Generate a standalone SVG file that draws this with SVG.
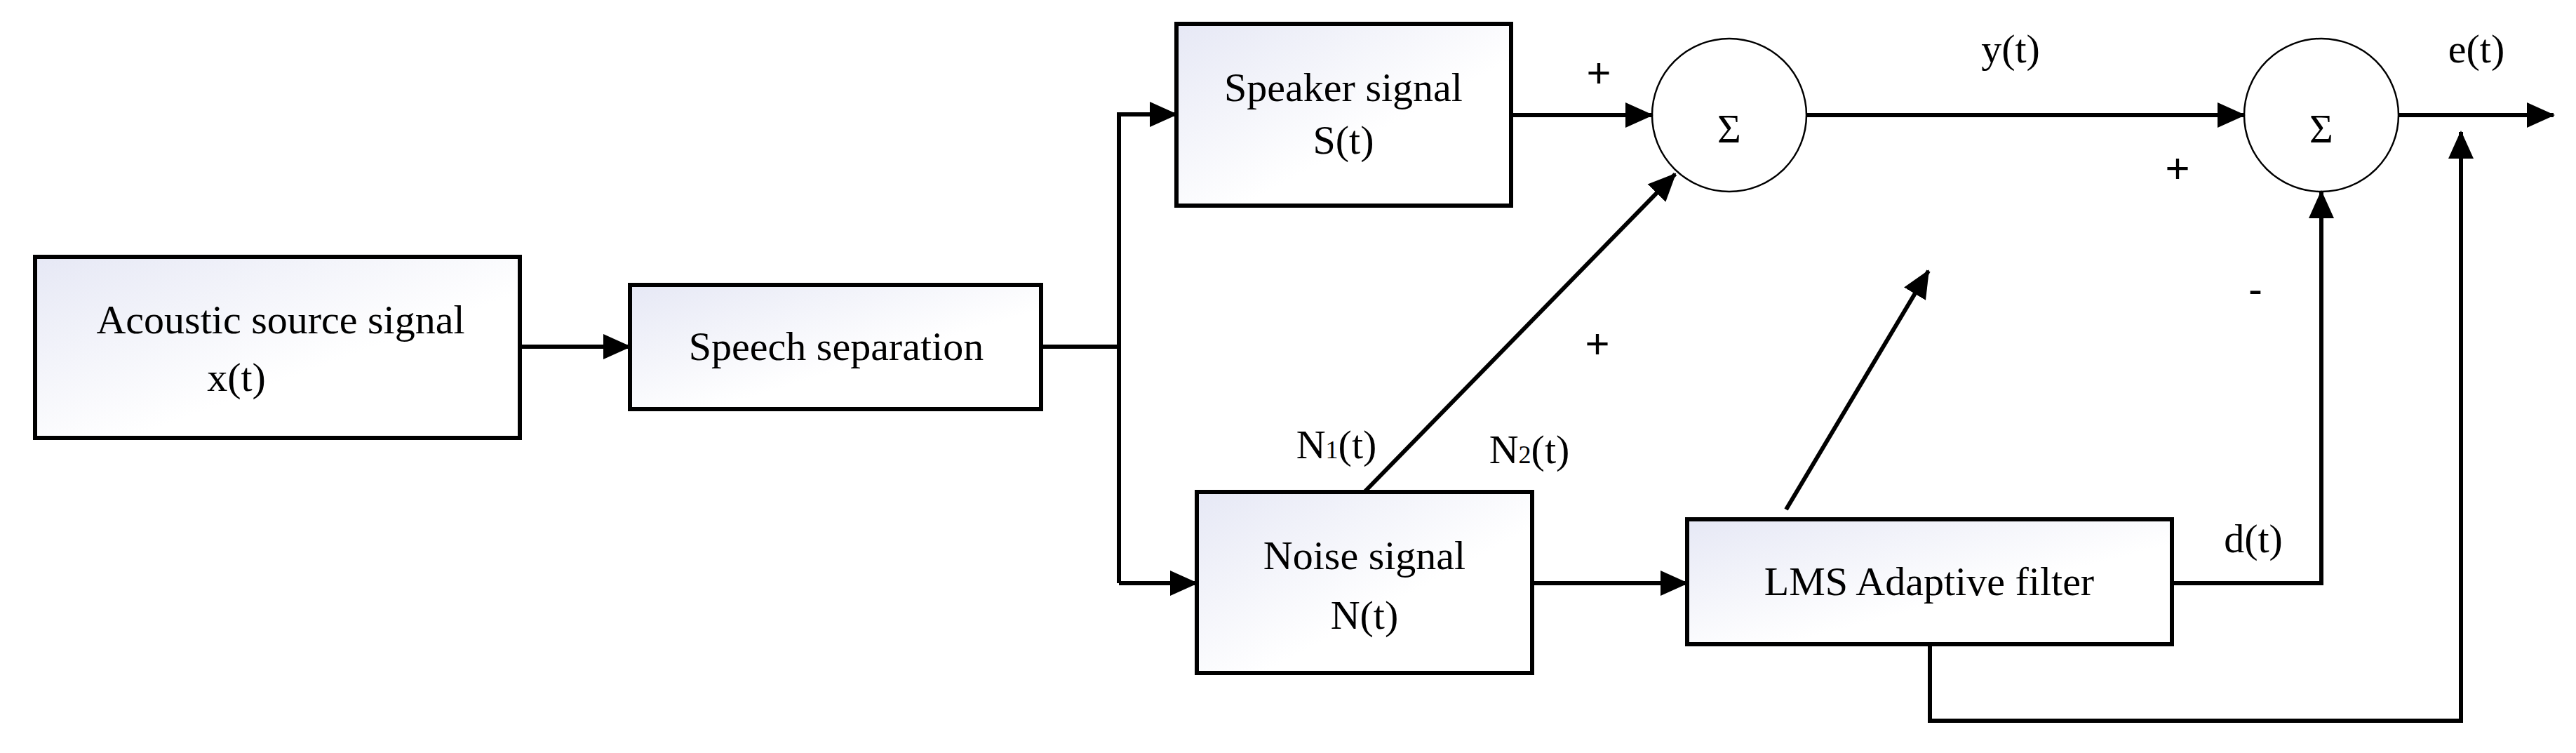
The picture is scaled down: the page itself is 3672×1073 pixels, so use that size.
<svg xmlns="http://www.w3.org/2000/svg" width="3672" height="1073" viewBox="0 0 3672 1073">
<defs>
<linearGradient id="g" x1="0" y1="0" x2="1" y2="1"><stop offset="0" stop-color="#e6e8f5"/><stop offset="0.6" stop-color="#ffffff"/></linearGradient>
<marker id="a" markerUnits="userSpaceOnUse" markerWidth="40" markerHeight="40" viewBox="0 0 40 40" refX="38" refY="20" orient="auto"><path d="M0,2 L40,20 L0,38 Z" fill="#000"/></marker>
<style>
.box{fill:url(#g);stroke:#000;stroke-width:6}
.ln{fill:none;stroke:#000;stroke-width:6}
.t{font-family:"Liberation Serif",serif;font-size:58px;text-anchor:middle;fill:#000}
.s{font-family:"Liberation Sans",sans-serif;font-size:60px;text-anchor:middle}
</style>
</defs>
<rect width="3672" height="1073" fill="#fff"/>
<g id="acoustic"><rect class="box" x="50" y="366" width="691" height="258"/><text class="t" x="400" y="475">Acoustic source signal</text><text class="t" x="337" y="557" font-size="66">x(t)</text></g>
<g id="separation"><rect class="box" x="898" y="406" width="586" height="177"/><text class="t" x="1192" y="513">Speech separation</text></g>
<g id="speaker"><rect class="box" x="1677" y="34" width="477" height="259"/><text class="t" x="1915" y="144">Speaker signal</text><text class="t" x="1915" y="219">S(t)</text></g>
<g id="noise"><rect class="box" x="1706" y="701" width="478" height="258"/><text class="t" x="1945" y="811">Noise signal</text><text class="t" x="1945" y="896">N(t)</text></g>
<g id="lms"><rect class="box" x="2405" y="740" width="691" height="178"/><text class="t" x="2750" y="848">LMS Adaptive  filter</text></g>
<g id="sum1"><ellipse cx="2465" cy="164" rx="110" ry="109" fill="#fff" stroke="#000" stroke-width="2.5"/><text class="t" x="2465" y="203" font-size="120">Σ</text></g>
<g id="sum2"><ellipse cx="3309" cy="164" rx="110" ry="109" fill="#fff" stroke="#000" stroke-width="2.5"/><text class="t" x="3309" y="203" font-size="120">Σ</text></g>
<g id="connectors">
<line class="ln" x1="741" y1="494" x2="898" y2="494" marker-end="url(#a)"/>
<polyline class="ln" points="1484,494 1595,494"/>
<polyline class="ln" points="1595,831 1595,163 1677,163" marker-end="url(#a)"/>
<polyline class="ln" points="1595,831 1706,831" marker-end="url(#a)"/>
<line class="ln" x1="2154" y1="164" x2="2355" y2="164" marker-end="url(#a)"/>
<line class="ln" x1="2575" y1="164" x2="3199" y2="164" marker-end="url(#a)"/>
<line class="ln" x1="3419" y1="164" x2="3640" y2="164" marker-end="url(#a)"/>
<line class="ln" x1="1945" y1="701" x2="2388" y2="248" marker-end="url(#a)" stroke-width="5"/>
<line class="ln" x1="2184" y1="831" x2="2405" y2="831" marker-end="url(#a)"/>
<line class="ln" x1="2546" y1="726" x2="2749" y2="386" marker-end="url(#a)" stroke-width="5"/>
<polyline class="ln" points="3096,831 3309,831 3309,273" marker-end="url(#a)"/>
<polyline class="ln" points="2751,918 2751,1027 3508,1027 3508,188" marker-end="url(#a)"/>
</g>
<g id="labels">
<text class="s" x="2279" y="124">+</text>
<text class="s" x="3104" y="260">+</text>
<text class="s" x="2277" y="510">+</text>
<text class="s" x="3215" y="432">-</text>
<text class="t" x="2866" y="89">y(t)</text>
<text class="t" x="3530" y="89">e(t)</text>
<text class="t" x="3212" y="787">d(t)</text>
<text class="t" x="1905" y="653">N<tspan font-size="36">1</tspan>(t)</text>
<text class="t" x="2180" y="660">N<tspan font-size="36">2</tspan>(t)</text>
</g>
</svg>
